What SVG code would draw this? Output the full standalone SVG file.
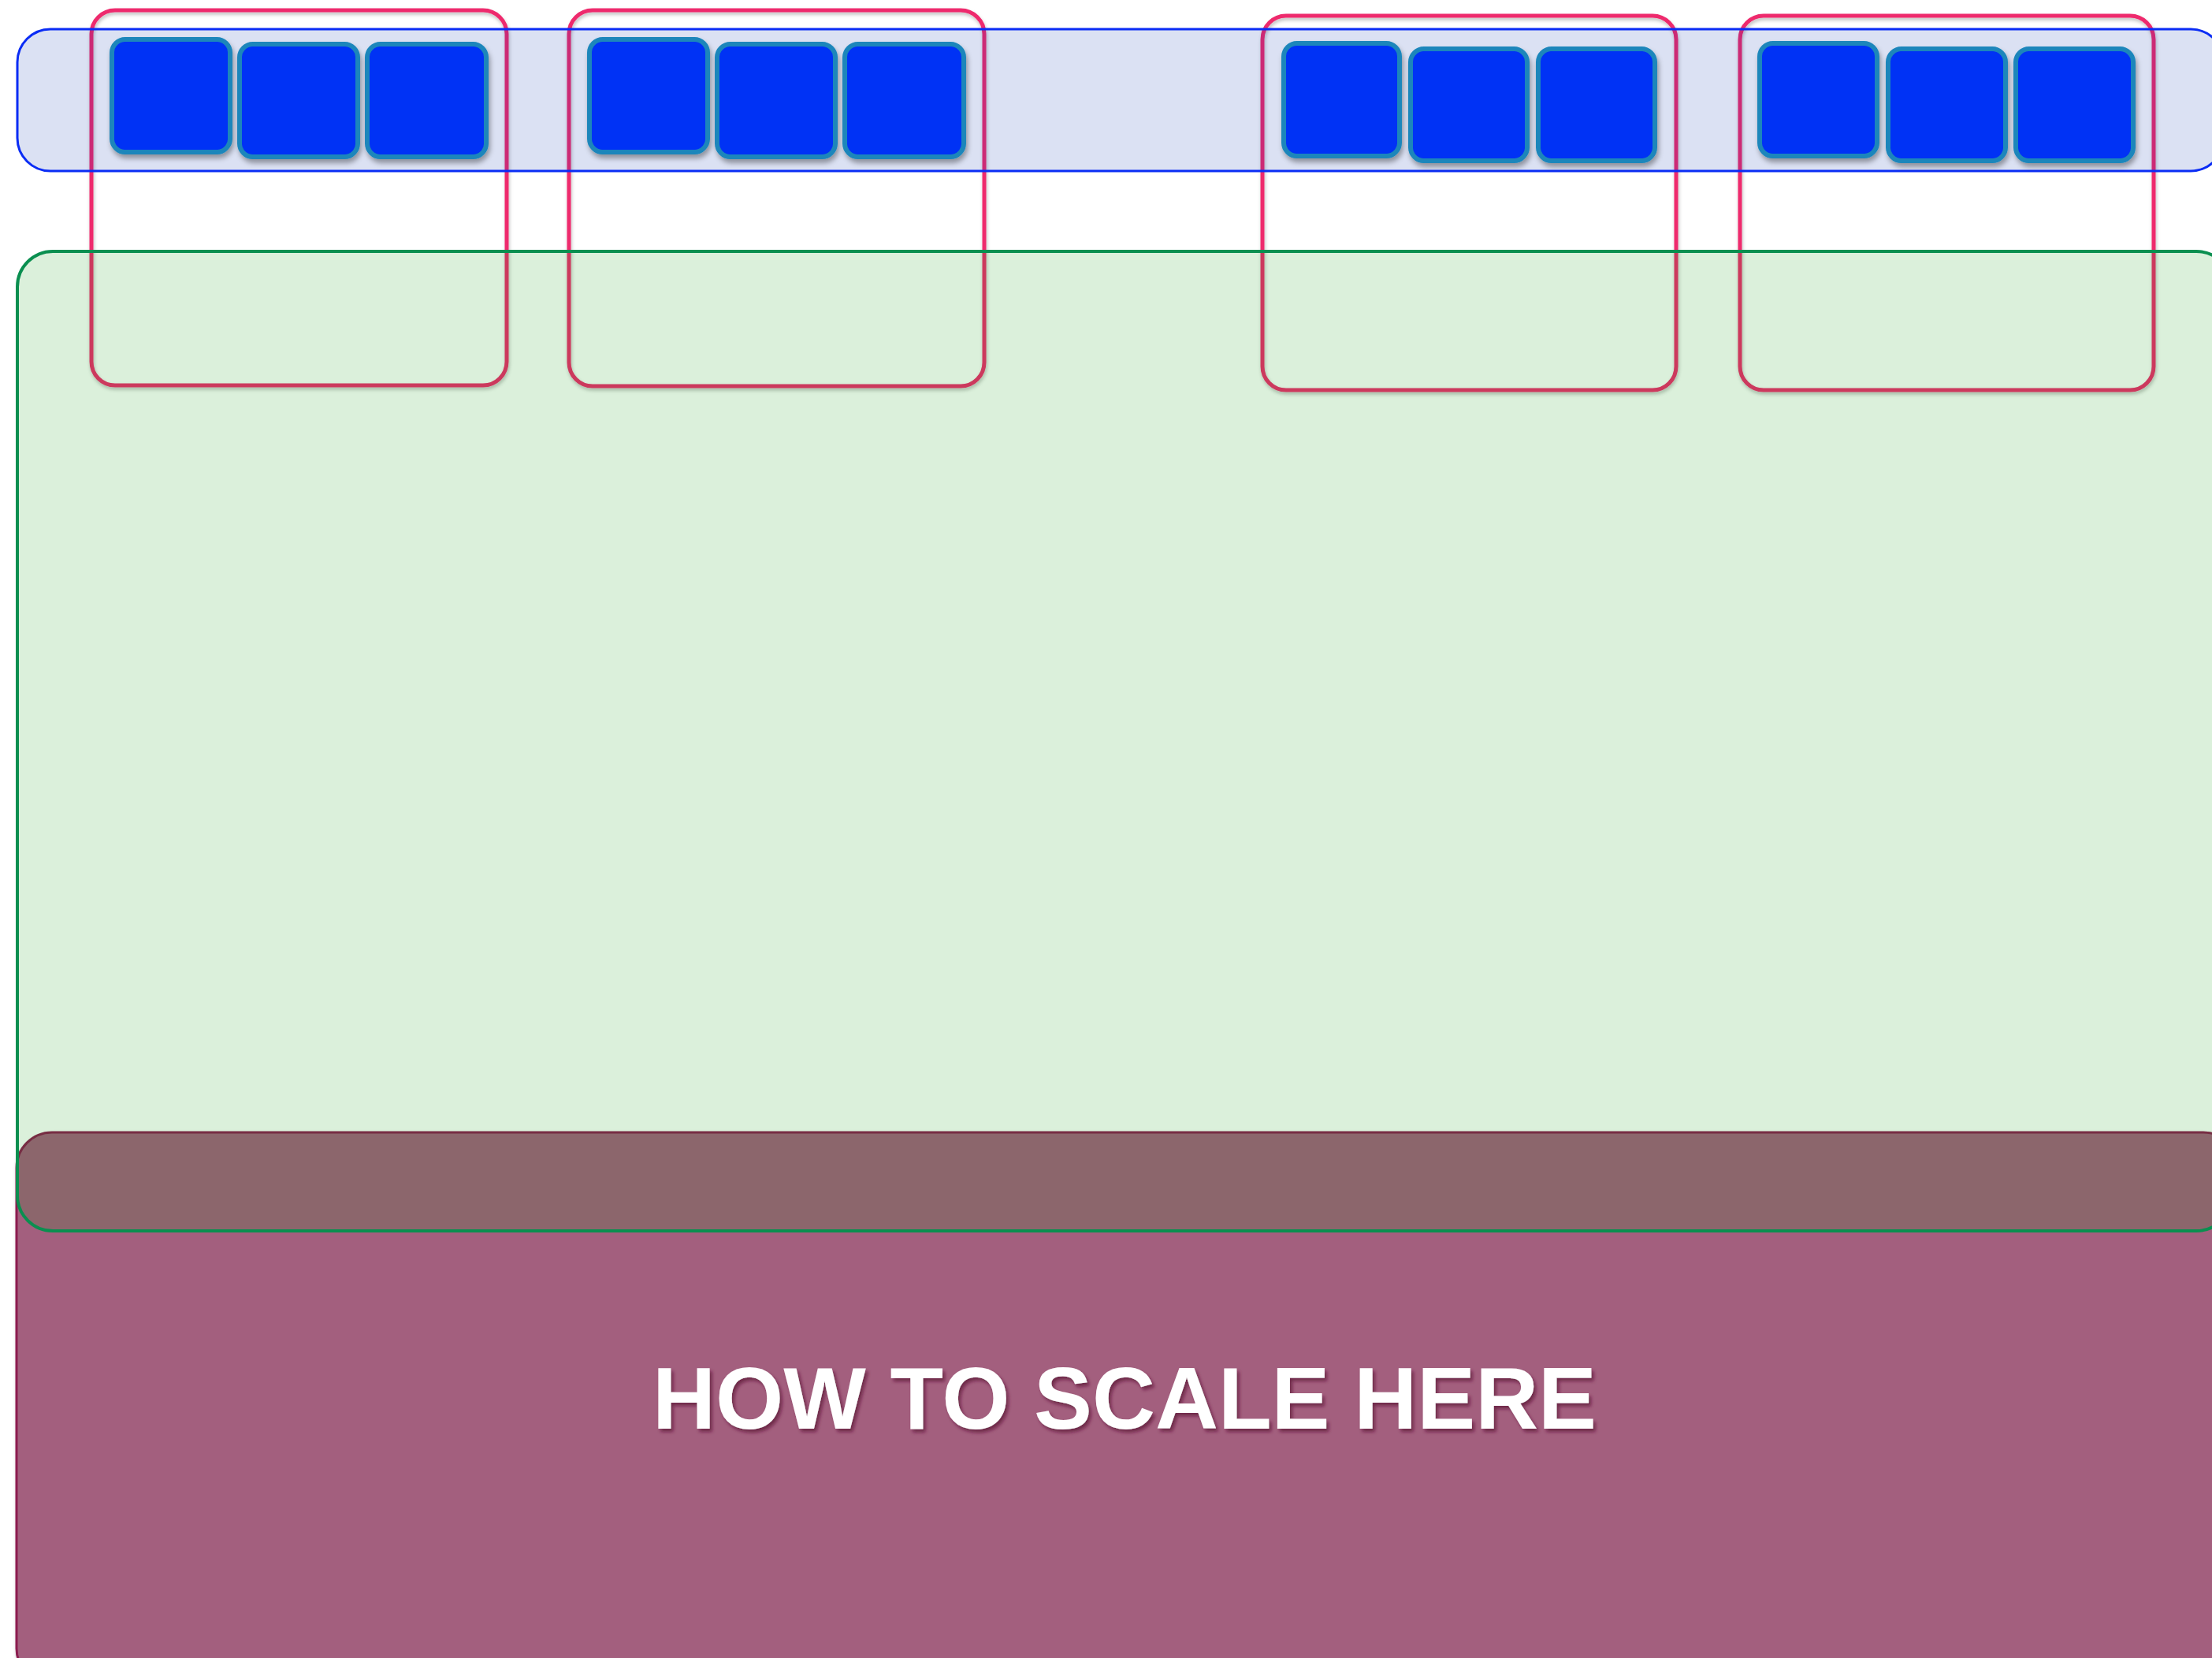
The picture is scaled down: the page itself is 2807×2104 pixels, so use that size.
<svg xmlns="http://www.w3.org/2000/svg" width="2807" height="2104" viewBox="0 0 2807 2104">
<defs>
<filter id="sh" x="-10%" y="-10%" width="130%" height="130%">
<feDropShadow dx="2" dy="5" stdDeviation="3" flood-color="#000" flood-opacity="0.35"/>
</filter>
<filter id="shs" x="-5%" y="-5%" width="110%" height="115%">
<feDropShadow dx="1" dy="3" stdDeviation="2" flood-color="#000" flood-opacity="0.25"/>
</filter>
<filter id="tsh" x="-5%" y="-20%" width="110%" height="150%">
<feDropShadow dx="3" dy="4" stdDeviation="2" flood-color="#5a1030" flood-opacity="0.7"/>
</filter>
</defs>
<style>
.red{fill:none;stroke:#ee2a6d;stroke-width:5}
.blk{fill:#0430f5;stroke:#1a86bb;stroke-width:6}
.lbl{font-family:"Liberation Sans",Arial,sans-serif;font-weight:bold;fill:#fff}
</style>
<rect width="2807" height="2104" fill="#fff"/>
<g id="scale-region">
<rect x="21" y="1437" width="2820" height="700" rx="45" fill="#a35e7e" stroke="#8b1d4f" stroke-width="3" filter="url(#shs)"/>
<text class="lbl" x="1427" y="1813" font-size="112" text-anchor="middle" textLength="1198" lengthAdjust="spacingAndGlyphs" filter="url(#tsh)">HOW TO SCALE HERE</text>
</g>
<g id="groups">
<rect id="group1" class="red" x="116" y="13" width="527" height="476" rx="30" filter="url(#shs)"/>
<rect id="group2" class="red" x="722" y="13" width="527" height="477" rx="30" filter="url(#shs)"/>
<rect id="group3" class="red" x="1602" y="20" width="525" height="475" rx="30" filter="url(#shs)"/>
<rect id="group4" class="red" x="2208" y="20" width="525" height="475" rx="30" filter="url(#shs)"/>
</g>
<g id="top-band">
<rect x="22" y="37" width="2800" height="180" rx="42" fill="rgb(0,45,170)" fill-opacity="0.14" stroke="#0a2cf5" stroke-width="3"/>
</g>
<g id="middle-band">
<rect x="22" y="319" width="2810" height="1243" rx="45" fill="rgb(0,150,0)" fill-opacity="0.14" stroke="#0a8f50" stroke-width="4"/>
</g>
<g id="blocks">
<rect id="b1a" class="blk" x="142" y="50" width="150" height="143" rx="17" filter="url(#sh)"/>
<rect id="b1b" class="blk" x="304" y="56" width="150" height="143" rx="17" filter="url(#sh)"/>
<rect id="b1c" class="blk" x="466" y="56" width="151" height="143" rx="17" filter="url(#sh)"/>
<rect id="b2a" class="blk" x="748" y="50" width="150" height="143" rx="17" filter="url(#sh)"/>
<rect id="b2b" class="blk" x="910" y="56" width="150" height="143" rx="17" filter="url(#sh)"/>
<rect id="b2c" class="blk" x="1072" y="56" width="151" height="143" rx="17" filter="url(#sh)"/>
<rect id="b3a" class="blk" x="1629" y="55" width="147" height="143" rx="17" filter="url(#sh)"/>
<rect id="b3b" class="blk" x="1790" y="62" width="148" height="142" rx="17" filter="url(#sh)"/>
<rect id="b3c" class="blk" x="1952" y="62" width="148" height="142" rx="17" filter="url(#sh)"/>
<rect id="b4a" class="blk" x="2233" y="55" width="149" height="143" rx="17" filter="url(#sh)"/>
<rect id="b4b" class="blk" x="2396" y="62" width="149" height="142" rx="17" filter="url(#sh)"/>
<rect id="b4c" class="blk" x="2558" y="62" width="149" height="142" rx="17" filter="url(#sh)"/>
</g>
<g id="connectors"/>
</svg>
